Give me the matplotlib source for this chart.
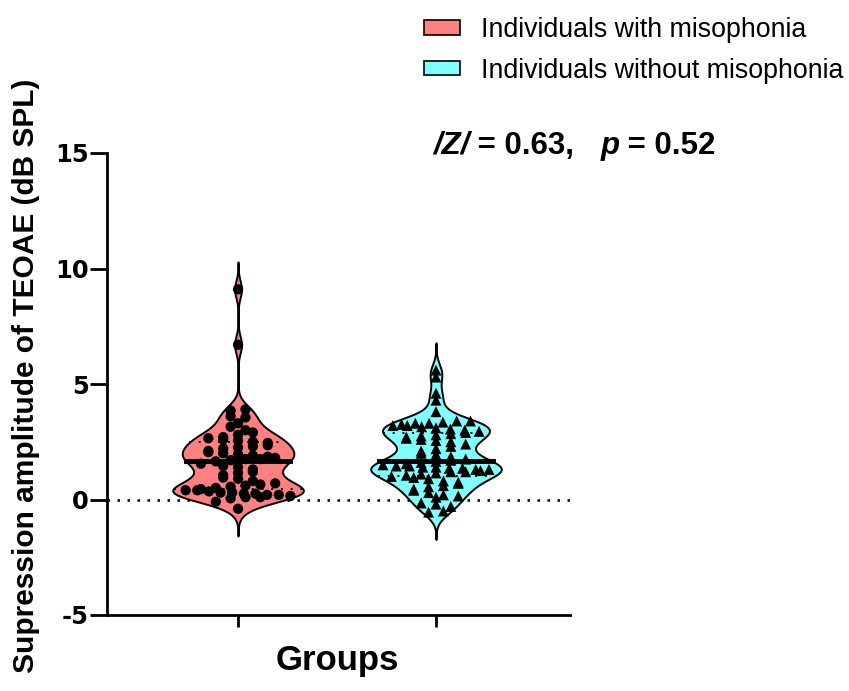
import numpy as np
import matplotlib
matplotlib.use("Agg")
import matplotlib.pyplot as plt
from matplotlib.patches import Patch

plt.rcParams['font.family'] = ['Liberation Sans', 'DejaVu Sans']

# values (dB SPL)
groups = ["Individuals with misophonia", "Individuals without misophonia"]
colors = ["#FF8080", "#80FFFF"]
markers = ["o", "^"]

with_miso = [9.1, 6.7, 3.9, 3.85, 3.6, 3.55, 3.3, 3.15, 3.0,
             2.9, 2.8, 2.7, 2.65, 2.6, 2.55, 2.5,
             2.45, 2.35, 2.3, 2.25, 2.2, 2.1, 2.05, 2.0,
             1.95, 1.9, 1.85, 1.8, 1.75, 1.75, 1.7, 1.65, 1.55,
             1.45, 1.4, 1.3, 1.2, 1.15, 1.05,
             0.95, 0.9, 0.8, 0.7, 0.65, 0.6, 0.55, 0.5,
             0.45, 0.4, 0.4, 0.35, 0.3, 0.3, 0.25, 0.25, 0.2, 0.2, 0.15, 0.1,
             0.1, 0.05, -0.1, -0.4]
without_miso = [5.6, 5.3, 4.6, 4.3, 3.8,
                3.4, 3.4, 3.35, 3.3, 3.3, 3.25, 3.2, 3.2, 3.15, 3.1, 3.05, 3.0,
                2.95, 2.9, 2.85, 2.8, 2.75, 2.7, 2.65, 2.6, 2.55, 2.5,
                2.4, 2.3, 2.2, 2.1, 2.0,
                1.95, 1.85, 1.75, 1.7, 1.65, 1.6, 1.55,
                1.5, 1.45, 1.45, 1.4, 1.4, 1.35, 1.35, 1.3, 1.3, 1.25, 1.2,
                1.2, 1.15, 1.1, 1.05, 1.0,
                0.95, 0.9, 0.8, 0.75, 0.7, 0.6, 0.55,
                0.45, 0.4, 0.3, 0.2, 0.15, 0.1,
                -0.15, -0.2, -0.3, -0.5, -0.55]
data = [with_miso, without_miso]
stat_text = ["/Z/", " = 0.63,   ", "p", " = 0.52"]

W, H = 849, 691
fig = plt.figure(figsize=(W / 100, H / 100), dpi=100)
ax = fig.add_axes([107 / W, 1 - 615 / H, 463 / W, 462 / H])
ax.set_xlim(0.338, 2.677)
ax.set_ylim(-5, 15)


def kde(vals, grid, bw):
    d = np.exp(-0.5 * ((grid[:, None] - vals[None, :]) / bw) ** 2)
    return d.sum(axis=1)


def row_offsets(vals, grid, half, step=0.28):
    # lay points out in rows across the violin width
    rows = np.round(vals / step).astype(int)
    offs = np.zeros(len(vals))
    for r in np.unique(rows):
        idx = np.where(rows == r)[0]
        idx = idx[np.argsort(vals[idx])]
        n = len(idx)
        if n == 1:
            continue
        w = np.interp(r * step, grid, half) * 0.82
        sp = min(2 * w / (n - 1), 0.075)
        xs = (np.arange(n) - (n - 1) / 2) * sp
        if r % 2:
            xs = xs[::-1]
        offs[idx] = xs
    return offs


bw = 0.37
for pos, vals, col, mk in zip([1, 2], data, colors, markers):
    vals = np.array(vals)
    grid = np.linspace(vals.min() - 3.2 * bw, vals.max() + 3.2 * bw, 800)
    dens = kde(vals, grid, bw)
    half = dens / dens.max() * 0.33
    ax.fill_betweenx(grid, pos - half, pos + half, facecolor=col,
                     edgecolor="black", lw=1.4, zorder=2)
    q1, med, q3 = np.percentile(vals, [25, 50, 75])
    for q, lw, ls in [(med, 3.5, "-"), (q1, 1.4, (0, (1, 4))), (q3, 1.4, (0, (1, 4)))]:
        w = np.interp(q, grid, half)
        ax.plot([pos - w, pos + w], [q, q], color="black", lw=lw, ls=ls, zorder=3)
    offs = row_offsets(vals, grid, half)
    ax.scatter(pos + offs, vals, marker=mk, s=55 if mk == "o" else 62,
               color="black", edgecolor="none", zorder=4)

ax.axhline(0, color="black", lw=1.8, ls=(0, (1, 3)), zorder=1)

ax.set_xticks([1, 2])
ax.set_xticklabels([])
ax.set_yticks([-5, 0, 5, 10, 15])
ax.set_yticklabels(["-5", "0", "5", "10", "15"], fontsize=17.5, fontweight="bold",
                   family="DejaVu Sans")
ax.tick_params(axis="y", length=12, width=2.0, pad=1)
ax.tick_params(axis="x", length=8.5, width=2.0)
for s in ["top", "right"]:
    ax.spines[s].set_visible(False)
for s in ["left", "bottom"]:
    ax.spines[s].set_linewidth(2.0)

fig.text(26 / W, 1 - 376 / H, "Supression amplitude of TEOAE (dB SPL)",
         rotation=90, ha="center", va="center", fontsize=21.5, fontweight="bold")
fig.text(337 / W, 1 - 670 / H, "Groups", ha="center", va="baseline",
         fontsize=25, fontweight="bold")

handles = [Patch(facecolor=c, edgecolor="black", lw=1.2) for c in colors]
fig.legend(handles, groups, loc="upper left", bbox_to_anchor=(424 / W, 1 - 17 / H),
           frameon=False, fontsize=19.3, handlelength=1.33, handleheight=0.45,
           handletextpad=0.8, labelspacing=0.55, borderpad=0, borderaxespad=0)

# statistics line, mixed italic / upright pieces
t = fig.text(433 / W, 1 - 154 / H, stat_text[0], fontsize=22.5, fontweight="bold",
             style="italic", va="baseline")
for piece in stat_text[1:]:
    t = ax.annotate(piece, xy=(1, 0), xycoords=t, va="bottom", fontsize=22.5,
                    fontweight="bold", style="italic" if piece == "p" else "normal",
                    annotation_clip=False)

fig.savefig("out.png", dpi=100)
